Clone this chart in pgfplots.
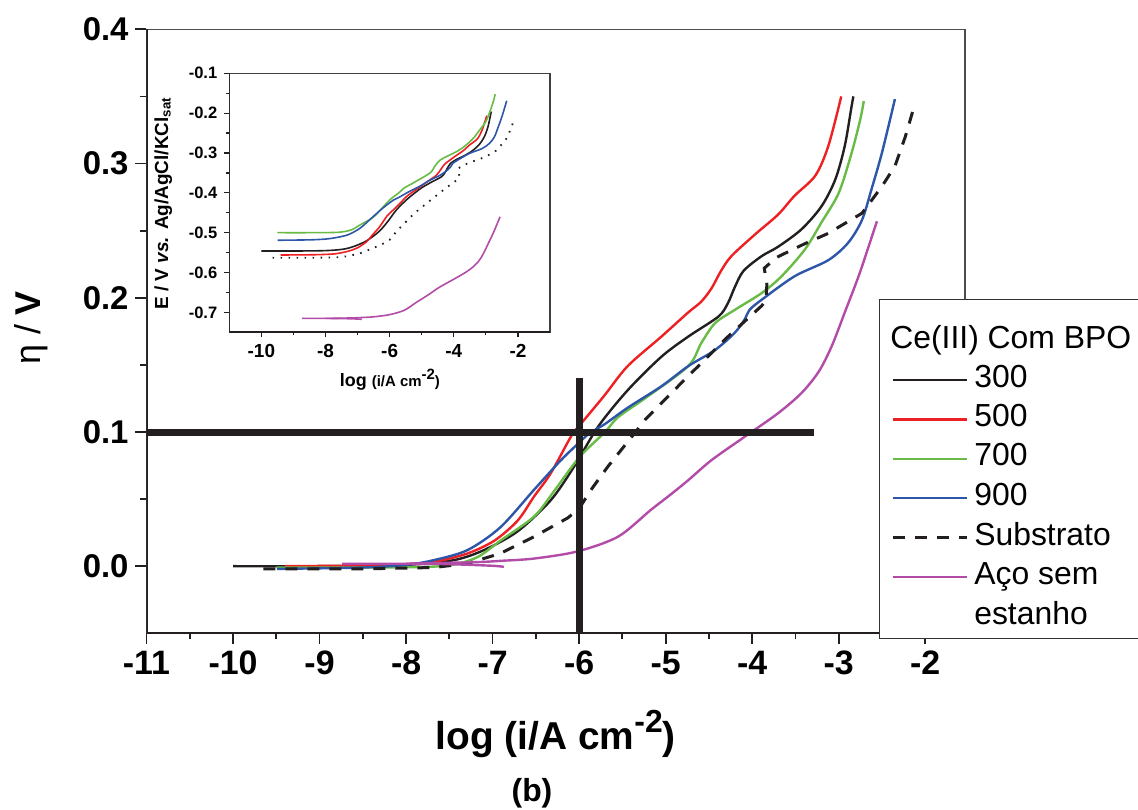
\documentclass[border=0pt]{standalone}
\usepackage{fontspec}
\setmainfont{Liberation Sans}
\usepackage{pgfplots}
\usepackage{pgfplotstable}
\pgfplotsset{compat=1.18}
\definecolor{cred}{RGB}{237,32,36}
\definecolor{cgreen}{RGB}{104,188,69}
\definecolor{cblue}{RGB}{45,86,168}
\definecolor{cmag}{RGB}{178,76,168}
\definecolor{cblk}{RGB}{35,31,32}

% eta (V) vs log(i/A cm^-2); inset uses E = eta + Ecorr
\pgfplotstableread{
x y
-10.00 0.000
-9.00 0.000
-8.00 0.001
-7.45 0.0045
-7.10 0.012
-6.71 0.026
-6.33 0.049
-6.06 0.074
-5.78 0.104
-5.44 0.131
-5.05 0.156
-4.74 0.171
-4.39 0.186
-4.28 0.196
-4.20 0.208
-4.10 0.220
-3.89 0.231
-3.70 0.238
-3.43 0.251
-3.20 0.268
-3.04 0.288
-2.93 0.313
-2.85 0.343
-2.83 0.350
}\tblack
\pgfplotstableread{
x y
-9.40 0.000
-8.50 0.0005
-8.06 0.0013
-7.68 0.0032
-7.29 0.0095
-6.98 0.019
-6.71 0.034
-6.52 0.052
-6.33 0.069
-6.09 0.097
-5.98 0.106
-5.71 0.127
-5.44 0.149
-5.05 0.171
-4.74 0.189
-4.59 0.197
-4.47 0.207
-4.36 0.220
-4.24 0.231
-3.97 0.247
-3.70 0.262
-3.51 0.276
-3.27 0.291
-3.12 0.313
-2.97 0.350
}\tred
\pgfplotstableread{
x y
-9.50 -0.001
-8.50 -0.001
-7.60 0.000
-7.20 0.006
-6.91 0.019
-6.52 0.037
-6.30 0.055
-6.00 0.081
-5.70 0.100
-5.55 0.111
-5.24 0.125
-4.74 0.149
-4.59 0.166
-4.43 0.181
-4.20 0.191
-3.89 0.2035
-3.66 0.216
-3.39 0.236
-3.20 0.256
-3.00 0.278
-2.85 0.308
-2.75 0.333
-2.71 0.3465
}\tgreen
\pgfplotstableread{
x y
-9.49 -0.002
-8.50 -0.001
-8.00 0.001
-7.68 0.0045
-7.29 0.012
-6.91 0.029
-6.52 0.057
-6.21 0.079
-6.00 0.092
-5.88 0.099
-5.70 0.106
-5.44 0.118
-5.05 0.134
-4.74 0.149
-4.43 0.161
-4.20 0.174
-4.085 0.184
-4.03 0.191
-3.89 0.1985
-3.51 0.216
-3.12 0.228
-2.89 0.241
-2.73 0.258
-2.62 0.281
-2.50 0.308
-2.35 0.348
}\tblue
\pgfplotstableread{
x y
-9.65 -0.002
-8.50 -0.002
-7.68 -0.001
-7.29 0.002
-6.91 0.0095
-6.52 0.022
-6.13 0.036
-6.00 0.043
-5.85 0.058
-5.67 0.074
-5.36 0.099
-5.24 0.109
-4.78 0.139
-4.28 0.171
-3.89 0.194
-3.84 0.198
-3.83 0.210
-3.86 0.222
-3.72 0.230
-3.40 0.240
-3.12 0.248
-2.73 0.263
-2.50 0.283
-2.35 0.298
-2.23 0.320
-2.13 0.342
}\tsub
\pgfplotstableread{
x y
-8.00 0.0018
-7.20 0.003
-6.90 0.004
-6.52 0.0057
-6.02 0.011
-5.55 0.022
-5.17 0.042
-4.95 0.053
-4.74 0.064
-4.47 0.079
-4.085 0.0965
-3.70 0.114
-3.43 0.129
-3.23 0.145
-3.08 0.164
-2.93 0.189
-2.77 0.216
-2.655 0.238
-2.558 0.257
}\tmag
\pgfplotstableread{
x y
-8.74 0.0018
-8.00 0.0018
-7.50 0.0015
-7.00 0.0003
-6.87 -0.0005
}\tmagb

\begin{document}
\begin{tikzpicture}
\useasboundingbox (-73.25bp,-88.35bp) rectangle (495.75bp,316.65bp);
\begin{axis}[
  at={(0,0)}, anchor=south west,
  scale only axis, width=409.25bp, height=302bp,
  xmin=-11, xmax=-1.54, ymin=-0.05, ymax=0.4,
  xtick={-11,-10,-9,-8,-7,-6,-5,-4,-3,-2}, minor x tick num=1,
  ytick={0,0.1,0.2,0.3,0.4}, minor y tick num=1,
  tick pos=left, tick align=outside,
  major tick length=5.5bp, minor tick length=3bp,
  tick style={line width=0.9bp, cblk},
  axis line style={line width=0.6bp, black!70},
  /pgf/number format/assume math mode=true,
  xticklabel style={font=\bfseries\fontsize{17}{17}\selectfont},
  yticklabel style={font=\bfseries\fontsize{16.5}{16.5}\selectfont,
    /pgf/number format/.cd, fixed, fixed zerofill, precision=1},
  xlabel={\textbf{log (i/A cm\raisebox{8.5bp}{\fontsize{16}{16}\selectfont -2})}},
  xlabel style={font=\fontsize{19.5}{19.5}\selectfont, at={(axis description cs:0.5,0)}, anchor=base, yshift=-57.85bp},
  ylabel={η / \textbf{V}},
  ylabel style={font=\fontsize{18}{18}\selectfont, at={(axis description cs:-0.1411,0.5055)}, anchor=center},
  legend style={at={(axis description cs:0.8946,0.5543)}, anchor=north west,
    font=\fontsize{16}{19.75}\selectfont, draw=black!80, line width=0.6bp,
    fill=white, inner xsep=6bp, inner ysep=2bp, row sep=2.5bp,
    nodes={text depth=4bp, inner ysep=1bp},
    /tikz/every odd column/.append style={column sep=1bp},
    cells={anchor=west}},
  legend image code/.code={\draw[#1] (0bp,0bp) -- (37bp,0bp);},
]
\addlegendimage{empty legend}
\addlegendentry{\hspace*{-42bp}\rule{0pt}{21.5bp}Ce(III) Com BPO}
\addplot[cblk, line width=1.2bp, smooth, tension=0.5] table {\tblack};
\addlegendentry{300}
\addplot[cred, line width=1.2bp, smooth, tension=0.5] table {\tred};
\addlegendentry{500}
\addplot[cgreen, line width=1.2bp, smooth, tension=0.5] table {\tgreen};
\addlegendentry{700}
\addplot[cblue, line width=1.2bp, smooth, tension=0.5] table {\tblue};
\addlegendentry{900}
\addplot[cblk, line width=1.5bp, dash pattern=on 6bp off 5bp] table {\tsub};
\addlegendentry{Substrato}
\addplot[cmag, line width=1.2bp, smooth, tension=0.5] table {\tmag};
\addlegendentry{Aço sem}
\addlegendimage{empty legend}
\addlegendentry{estanho}
\addplot[cmag, line width=1.2bp, smooth, forget plot] table {\tmagb};
% crosshair at log i = -6, eta = 0.1
\addplot[cblk, line width=3.5bp, forget plot] coordinates {(-11,0.0993) (-3.285,0.0993)};
\addplot[cblk, line width=3.4bp, forget plot] coordinates {(-6,-0.05) (-6,0.14)};
\draw[cblk, line width=1.4bp] (rel axis cs:0,1) -- (rel axis cs:0,0) -- (rel axis cs:1,0);
\end{axis}
\node[font=\bfseries\fontsize{16}{16}\selectfont, anchor=base] at (192.75bp,-83.85bp) {(b)};
\begin{axis}[
  at={(41.4bp,150.5bp)}, anchor=south west, scale only axis,
  width=160.35bp, height=129.5bp,
  xmin=-11, xmax=-1, ymin=-0.75, ymax=-0.1,
  xtick={-10,-8,-6,-4,-2}, minor x tick num=1,
  ytick={-0.7,-0.6,-0.5,-0.4,-0.3,-0.2,-0.1}, minor y tick num=1,
  tick pos=left, tick align=outside,
  major tick length=2.5bp, minor tick length=1.5bp,
  tick style={line width=0.6bp, cblk},
  axis line style={line width=0.6bp, black!75},
  /pgf/number format/assume math mode=true,
  xticklabel style={font=\bfseries\fontsize{9.5}{9.5}\selectfont},
  yticklabel style={font=\bfseries\fontsize{8.3}{8.3}\selectfont,
    /pgf/number format/.cd, fixed, fixed zerofill, precision=1},
  xlabel={\textbf{log {\fontsize{7.5}{7.5}\selectfont (i/A cm\raisebox{3.5bp}{-2})}}},
  xlabel style={font=\fontsize{9}{9}\selectfont, at={(axis description cs:0.501,0)}, anchor=base, yshift=-27.2bp},
  ylabel={\textbf{E / V \textit{vs.} Ag/AgCl/KCl\textsubscript{sat}}},
  ylabel style={font=\fontsize{9.5}{9.5}\selectfont, at={(axis description cs:-0.2058,0.498)}, anchor=center},
]
\addplot[cblk, line width=0.8bp, smooth, tension=0.5] table[y expr=\thisrow{y}-0.546] {\tblack};
\addplot[cred, line width=0.8bp, smooth, tension=0.5] table[y expr=\thisrow{y}-0.556] {\tred};
\addplot[cgreen, line width=0.8bp, smooth, tension=0.5] table[y expr=\thisrow{y}-0.499] {\tgreen};
\addplot[cblue, line width=0.8bp, smooth, tension=0.5] table[y expr=\thisrow{y}-0.517] {\tblue};
\addplot[cblk, line width=0.9bp, dash pattern=on 0.8bp off 3.2bp] table[y expr=\thisrow{y}-0.561] {\tsub};
\addplot[cmag, line width=0.8bp, smooth, tension=0.5] table[y expr=\thisrow{y}-0.717] {\tmag};
\addplot[cmag, line width=0.8bp, smooth] table[y expr=\thisrow{y}-0.717] {\tmagb};
\draw[cblk, line width=0.9bp] (rel axis cs:0,1) -- (rel axis cs:0,0) -- (rel axis cs:1,0);
\end{axis}
\end{tikzpicture}
\end{document}
